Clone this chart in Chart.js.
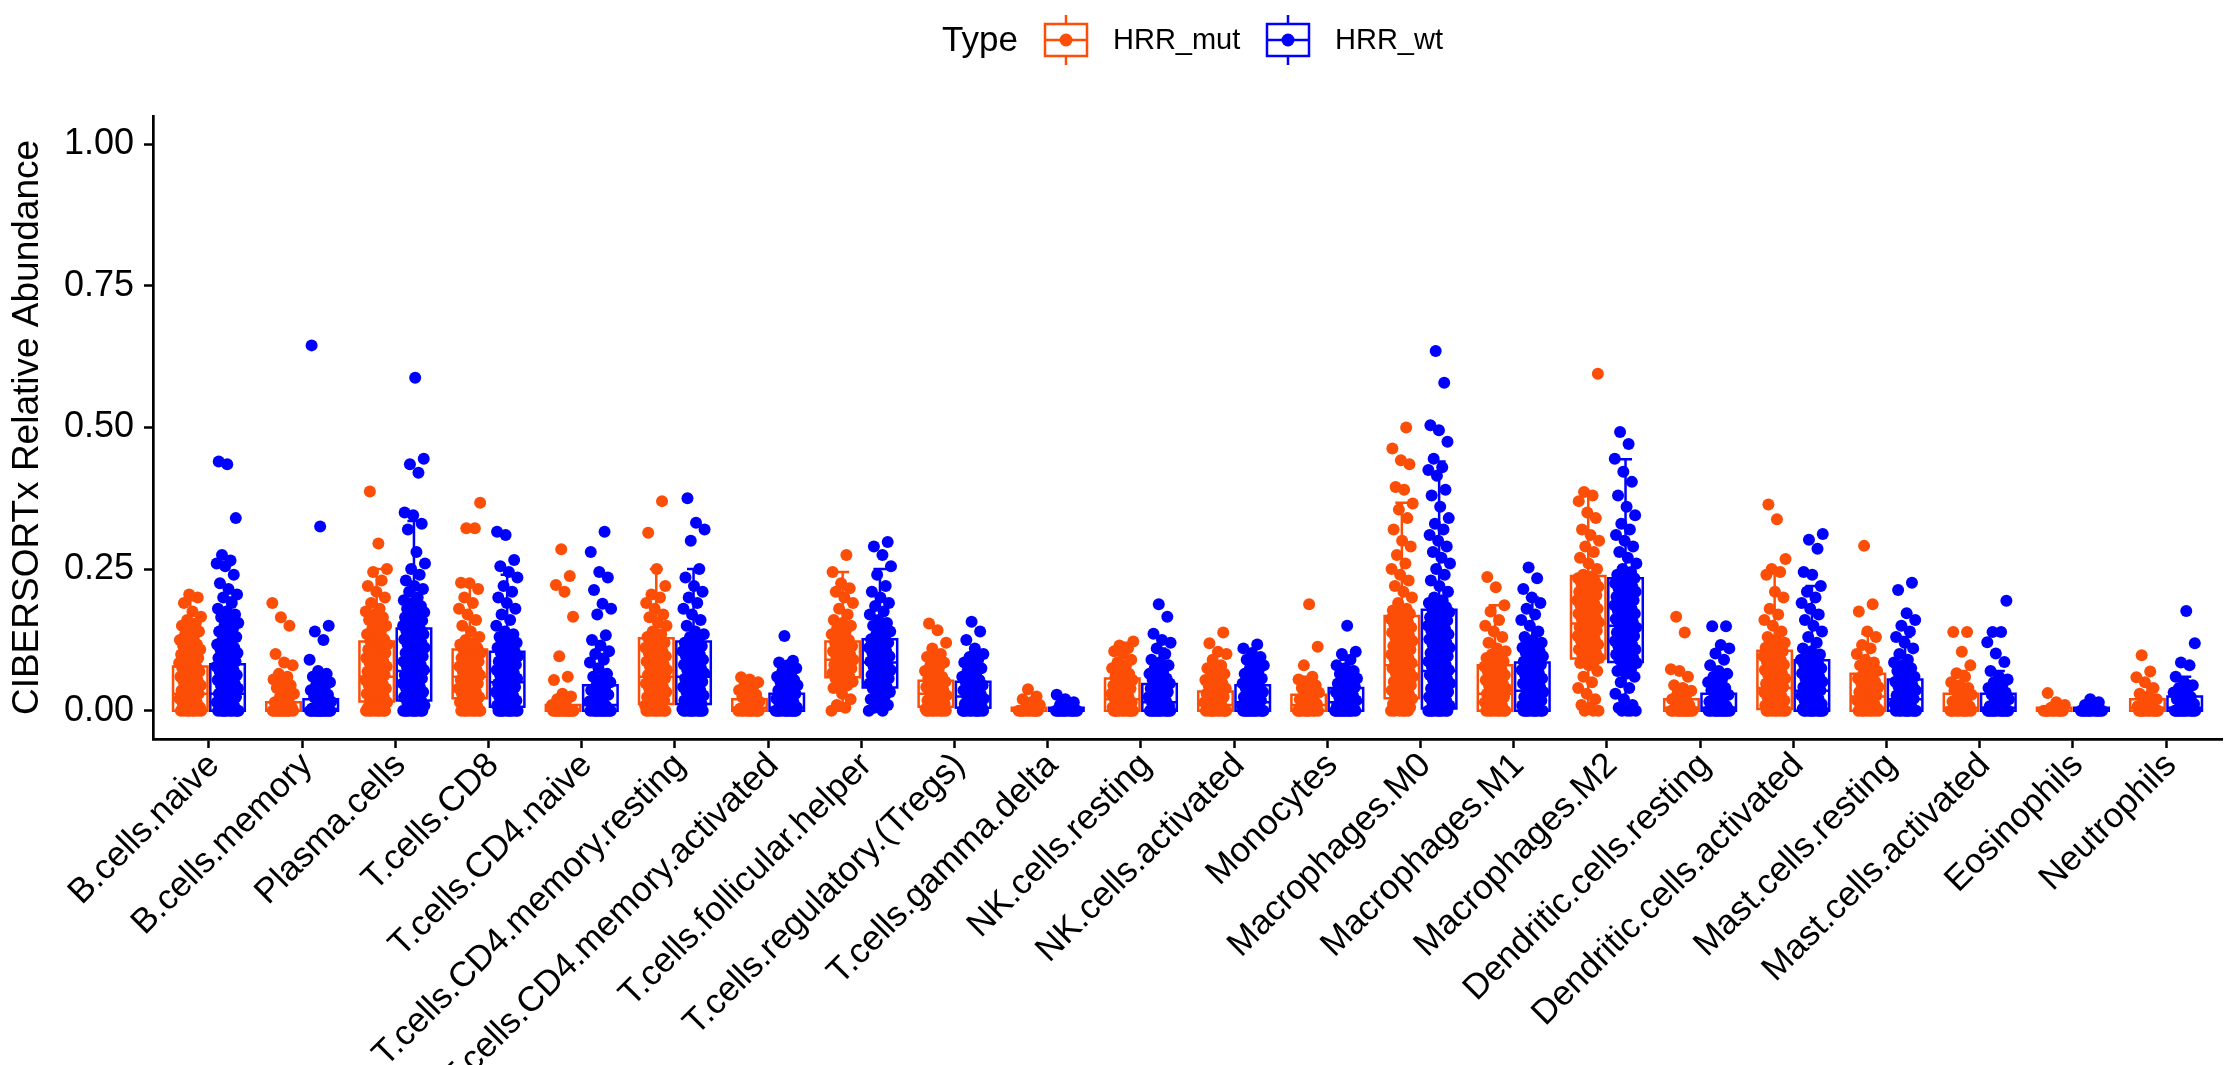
<!DOCTYPE html>
<html lang="en">
<head>
    <meta charset="UTF-8">
    <title>CIBERSORTx Relative Abundance by HRR status</title>
    <script src="https://cdn.jsdelivr.net/npm/chart.js"></script>
    <style>
        body {
            margin: 0;
            background: #ffffff;
            overflow: hidden;
        }
        #wrap {
            width: 2228px;
            height: 1065px;
        }
    </style>
</head>
<body>
    <div id="wrap">
        <canvas id="boxChart" width="2228" height="1065"></canvas>
    </div>
    <script>
        const categories = [
            'B.cells.naive', 'B.cells.memory', 'Plasma.cells', 'T.cells.CD8', 'T.cells.CD4.naive',
            'T.cells.CD4.memory.resting', 'T.cells.CD4.memory.activated', 'T.cells.follicular.helper',
            'T.cells.regulatory.(Tregs)', 'T.cells.gamma.delta', 'NK.cells.resting', 'NK.cells.activated',
            'Monocytes', 'Macrophages.M0', 'Macrophages.M1', 'Macrophages.M2', 'Dendritic.cells.resting',
            'Dendritic.cells.activated', 'Mast.cells.resting', 'Mast.cells.activated', 'Eosinophils', 'Neutrophils'
        ];
        const groups = ['HRR_mut', 'HRR_wt'];
        const yTicks = [0, 0.25, 0.5, 0.75, 1];

        // box statistics
        const mutLow  = [0, 0, 0, 0, 0, 0, 0, 0, 0, 0, 0, 0, 0, 0, 0, 0, 0, 0, 0, 0, 0, 0];
        const mutQ1   = [0, 0, 0.016, 0.022, 0, 0.012, 0, 0.059, 0.007, 0, 0, 0, 0, 0.022, 0, 0.092, 0, 0.003, 0, 0, 0, 0];
        const mutMed  = [0.03, 0, 0.06, 0.06, 0, 0.06, 0.005, 0.09, 0.03, 0, 0.02, 0.01, 0.01, 0.08, 0.03, 0.154, 0.005, 0.04, 0.025, 0.005, 0, 0.005];
        const mutQ3   = [0.078, 0.015, 0.122, 0.108, 0.01, 0.128, 0.02, 0.122, 0.053, 0.005, 0.057, 0.034, 0.028, 0.167, 0.08, 0.238, 0.02, 0.106, 0.065, 0.03, 0.005, 0.02];
        const mutHigh = [0.195, 0.035, 0.25, 0.22, 0.025, 0.25, 0.045, 0.245, 0.1, 0.01, 0.12, 0.08, 0.06, 0.367, 0.186, 0.384, 0.045, 0.249, 0.136, 0.07, 0.01, 0.045];

        const wtLow  = [0, 0, 0, 0, 0, 0, 0, 0, 0, 0, 0, 0, 0, 0, 0, 0, 0, 0, 0, 0, 0, 0];
        const wtQ1   = [0, 0, 0.018, 0.007, 0, 0.012, 0, 0.041, 0.005, 0, 0, 0, 0, 0.004, 0, 0.086, 0, 0, 0, 0, 0, 0];
        const wtMed  = [0.03, 0.003, 0.07, 0.05, 0.01, 0.06, 0.005, 0.085, 0.025, 0, 0.015, 0.015, 0.015, 0.07, 0.035, 0.15, 0.005, 0.035, 0.02, 0.005, 0, 0.005];
        const wtQ3   = [0.082, 0.02, 0.145, 0.104, 0.045, 0.122, 0.03, 0.126, 0.051, 0.005, 0.047, 0.045, 0.04, 0.178, 0.085, 0.234, 0.03, 0.089, 0.055, 0.03, 0.005, 0.025];
        const wtHigh = [0.2, 0.05, 0.335, 0.24, 0.1, 0.25, 0.07, 0.25, 0.1, 0.01, 0.11, 0.1, 0.09, 0.44, 0.2, 0.444, 0.07, 0.22, 0.13, 0.07, 0.01, 0.06];

        // sample values, one list per cell type
        const mutPoints = [
            [0,0,0,0,0,0,0,0,0.003,0.006,0.009,0.012,0.015,0.018,0.021,0.024,0.027,0.03,0.033,0.036,0.039,0.042,0.045,0.048,0.051,0.054,0.057,0.06,0.063,0.066,0.069,0.072,0.075,0.078,0.081,0.084,0.087,0.09,0.093,0.096,0.099,0.102,0.105,0.108,0.111,0.114,0.117,0.12,0.125,0.13,0.135,0.14,0.145,0.15,0.154,0.16,0.166,0.175,0.19,0.2,0.205],
            [0,0,0,0,0,0,0,0,0,0,0,0,0.005,0.01,0.015,0.02,0.025,0.03,0.035,0.04,0.045,0.05,0.055,0.06,0.065,0.08,0.085,0.1,0.15,0.165,0.19],
            [0,0,0,0,0,0,0,0,0.003,0.006,0.009,0.012,0.015,0.018,0.021,0.024,0.027,0.03,0.033,0.036,0.039,0.042,0.045,0.048,0.051,0.054,0.057,0.06,0.063,0.066,0.069,0.072,0.075,0.078,0.081,0.084,0.087,0.09,0.093,0.096,0.099,0.102,0.105,0.108,0.111,0.114,0.117,0.12,0.123,0.126,0.13,0.135,0.14,0.145,0.15,0.155,0.16,0.165,0.17,0.175,0.18,0.19,0.2,0.21,0.22,0.23,0.245,0.25,0.295,0.387],
            [0,0,0,0,0,0,0,0,0.003,0.006,0.009,0.012,0.015,0.018,0.021,0.024,0.027,0.03,0.033,0.036,0.039,0.042,0.045,0.048,0.051,0.054,0.057,0.06,0.063,0.066,0.069,0.072,0.075,0.078,0.081,0.084,0.087,0.09,0.093,0.096,0.099,0.102,0.105,0.108,0.111,0.114,0.117,0.12,0.125,0.13,0.14,0.15,0.16,0.17,0.18,0.19,0.2,0.215,0.225,0.226,0.322,0.322,0.367],
            [0,0,0,0,0,0,0,0,0,0,0,0,0,0,0.005,0.01,0.015,0.02,0.025,0.03,0.054,0.06,0.096,0.166,0.21,0.222,0.238,0.285],
            [0,0,0,0,0,0,0,0,0.003,0.006,0.009,0.012,0.015,0.018,0.021,0.024,0.027,0.03,0.033,0.036,0.039,0.042,0.045,0.048,0.051,0.054,0.057,0.06,0.063,0.066,0.069,0.072,0.075,0.078,0.081,0.084,0.087,0.09,0.093,0.096,0.099,0.102,0.105,0.108,0.111,0.114,0.117,0.12,0.125,0.13,0.135,0.14,0.15,0.155,0.165,0.17,0.18,0.19,0.2,0.205,0.22,0.25,0.314,0.37],
            [0,0,0,0,0,0,0,0,0,0,0.004,0.008,0.012,0.016,0.02,0.024,0.028,0.032,0.036,0.04,0.045,0.05,0.055,0.059],
            [0,0.005,0.01,0.02,0.03,0.04,0.045,0.048,0.051,0.054,0.057,0.06,0.063,0.066,0.069,0.072,0.075,0.078,0.081,0.084,0.087,0.09,0.093,0.096,0.099,0.102,0.105,0.108,0.111,0.114,0.117,0.12,0.125,0.13,0.135,0.14,0.145,0.15,0.155,0.16,0.17,0.18,0.19,0.2,0.21,0.216,0.225,0.245,0.275],
            [0,0,0,0,0,0,0,0,0.003,0.006,0.009,0.012,0.015,0.018,0.021,0.024,0.027,0.03,0.033,0.036,0.039,0.042,0.045,0.048,0.051,0.054,0.057,0.06,0.065,0.07,0.075,0.08,0.085,0.09,0.095,0.1,0.11,0.12,0.142,0.154],
            [0,0,0,0,0,0,0,0,0,0,0.005,0.01,0.015,0.02,0.025,0.038],
            [0,0,0,0,0,0,0,0,0,0,0.003,0.006,0.009,0.012,0.015,0.018,0.021,0.024,0.027,0.03,0.033,0.036,0.039,0.042,0.045,0.048,0.051,0.054,0.057,0.06,0.065,0.07,0.075,0.08,0.085,0.09,0.1,0.105,0.11,0.115,0.122],
            [0,0,0,0,0,0,0,0,0,0,0.003,0.006,0.009,0.012,0.015,0.018,0.021,0.024,0.027,0.03,0.033,0.036,0.039,0.042,0.045,0.048,0.051,0.054,0.057,0.06,0.065,0.07,0.075,0.08,0.09,0.1,0.104,0.119,0.138],
            [0,0,0,0,0,0,0,0,0,0,0.004,0.008,0.012,0.016,0.02,0.024,0.028,0.032,0.036,0.04,0.045,0.05,0.055,0.06,0.08,0.113,0.188],
            [0,0,0,0,0,0,0.003,0.006,0.009,0.012,0.015,0.018,0.021,0.024,0.027,0.03,0.033,0.036,0.039,0.042,0.045,0.048,0.051,0.054,0.057,0.06,0.063,0.066,0.069,0.072,0.075,0.078,0.081,0.084,0.087,0.09,0.093,0.096,0.099,0.102,0.105,0.108,0.111,0.114,0.117,0.12,0.123,0.126,0.129,0.132,0.135,0.138,0.141,0.144,0.147,0.15,0.153,0.156,0.159,0.162,0.165,0.168,0.171,0.174,0.177,0.18,0.19,0.2,0.21,0.22,0.23,0.24,0.25,0.26,0.275,0.29,0.3,0.32,0.34,0.355,0.366,0.39,0.395,0.435,0.442,0.463,0.5],
            [0,0,0,0,0,0,0,0,0.003,0.006,0.009,0.012,0.015,0.018,0.021,0.024,0.027,0.03,0.033,0.036,0.039,0.042,0.045,0.048,0.051,0.054,0.057,0.06,0.063,0.066,0.069,0.072,0.075,0.078,0.081,0.084,0.087,0.09,0.093,0.096,0.099,0.105,0.11,0.12,0.13,0.14,0.15,0.16,0.175,0.186,0.218,0.236],
            [0,0,0,0.005,0.01,0.02,0.03,0.04,0.05,0.06,0.07,0.08,0.084,0.087,0.09,0.093,0.096,0.099,0.102,0.105,0.108,0.111,0.114,0.117,0.12,0.123,0.126,0.129,0.132,0.135,0.138,0.141,0.144,0.147,0.15,0.153,0.156,0.159,0.162,0.165,0.168,0.171,0.174,0.177,0.18,0.183,0.186,0.189,0.192,0.195,0.198,0.201,0.204,0.207,0.21,0.213,0.216,0.219,0.222,0.225,0.228,0.231,0.234,0.237,0.24,0.25,0.26,0.27,0.28,0.29,0.3,0.31,0.32,0.34,0.35,0.37,0.38,0.386,0.595],
            [0,0,0,0,0,0,0,0,0,0,0,0,0.005,0.01,0.015,0.02,0.025,0.03,0.035,0.04,0.045,0.06,0.07,0.073,0.138,0.166],
            [0,0,0,0,0,0,0,0,0.003,0.006,0.009,0.012,0.015,0.018,0.021,0.024,0.027,0.03,0.033,0.036,0.039,0.042,0.045,0.048,0.051,0.054,0.057,0.06,0.063,0.066,0.069,0.072,0.075,0.078,0.081,0.084,0.087,0.09,0.093,0.096,0.099,0.102,0.105,0.108,0.111,0.114,0.117,0.12,0.125,0.13,0.14,0.15,0.16,0.17,0.18,0.2,0.21,0.24,0.245,0.25,0.268,0.338,0.364],
            [0,0,0,0,0,0,0,0,0.003,0.006,0.009,0.012,0.015,0.018,0.021,0.024,0.027,0.03,0.033,0.036,0.039,0.042,0.045,0.048,0.051,0.054,0.057,0.06,0.065,0.07,0.075,0.08,0.085,0.09,0.1,0.11,0.116,0.13,0.14,0.175,0.188,0.291],
            [0,0,0,0,0,0,0,0,0,0,0.004,0.008,0.012,0.016,0.02,0.024,0.028,0.032,0.036,0.04,0.045,0.05,0.06,0.066,0.08,0.104,0.139,0.139],
            [0,0,0,0,0,0,0,0,0,0,0.005,0.01,0.015,0.031],
            [0,0,0,0,0,0,0,0,0,0,0.004,0.008,0.012,0.016,0.02,0.025,0.03,0.04,0.05,0.059,0.069,0.098]
        ];
        const wtPoints = [
            [0,0,0,0,0,0,0,0,0,0,0.003,0.006,0.009,0.012,0.015,0.018,0.021,0.024,0.027,0.03,0.033,0.036,0.039,0.042,0.045,0.048,0.051,0.054,0.057,0.06,0.063,0.066,0.069,0.072,0.075,0.078,0.081,0.084,0.087,0.09,0.093,0.096,0.099,0.102,0.105,0.108,0.111,0.114,0.117,0.12,0.125,0.13,0.135,0.14,0.145,0.15,0.155,0.16,0.165,0.17,0.175,0.18,0.19,0.2,0.205,0.215,0.225,0.24,0.255,0.26,0.265,0.275,0.34,0.435,0.44],
            [0,0,0,0,0,0,0,0,0,0,0,0,0,0,0.004,0.008,0.012,0.016,0.02,0.024,0.028,0.032,0.036,0.04,0.045,0.05,0.055,0.06,0.065,0.07,0.09,0.125,0.14,0.15,0.325,0.645],
            [0,0,0,0,0,0,0,0,0,0,0.003,0.006,0.009,0.012,0.015,0.018,0.021,0.024,0.027,0.03,0.033,0.036,0.039,0.042,0.045,0.048,0.051,0.054,0.057,0.06,0.063,0.066,0.069,0.072,0.075,0.078,0.081,0.084,0.087,0.09,0.093,0.096,0.099,0.102,0.105,0.108,0.111,0.114,0.117,0.12,0.123,0.126,0.129,0.132,0.135,0.138,0.141,0.144,0.147,0.15,0.153,0.156,0.159,0.162,0.165,0.168,0.171,0.174,0.177,0.18,0.185,0.19,0.195,0.2,0.21,0.215,0.22,0.23,0.24,0.25,0.26,0.28,0.32,0.33,0.345,0.35,0.42,0.435,0.445,0.588],
            [0,0,0,0,0,0,0,0,0,0,0.003,0.006,0.009,0.012,0.015,0.018,0.021,0.024,0.027,0.03,0.033,0.036,0.039,0.042,0.045,0.048,0.051,0.054,0.057,0.06,0.063,0.066,0.069,0.072,0.075,0.078,0.081,0.084,0.087,0.09,0.093,0.096,0.099,0.102,0.105,0.108,0.111,0.114,0.117,0.12,0.125,0.13,0.135,0.14,0.15,0.16,0.17,0.18,0.19,0.2,0.21,0.22,0.235,0.245,0.255,0.266,0.31,0.316],
            [0,0,0,0,0,0,0,0,0,0,0,0,0.004,0.008,0.012,0.016,0.02,0.024,0.028,0.032,0.036,0.04,0.045,0.05,0.055,0.06,0.065,0.075,0.085,0.09,0.1,0.105,0.115,0.125,0.133,0.17,0.18,0.189,0.213,0.235,0.245,0.28,0.316],
            [0,0,0,0,0,0,0,0,0,0,0.003,0.006,0.009,0.012,0.015,0.018,0.021,0.024,0.027,0.03,0.033,0.036,0.039,0.042,0.045,0.048,0.051,0.054,0.057,0.06,0.063,0.066,0.069,0.072,0.075,0.078,0.081,0.084,0.087,0.09,0.093,0.096,0.099,0.102,0.105,0.108,0.111,0.114,0.117,0.12,0.125,0.13,0.135,0.14,0.15,0.16,0.17,0.18,0.19,0.2,0.21,0.22,0.235,0.25,0.3,0.32,0.332,0.375],
            [0,0,0,0,0,0,0,0,0,0,0,0,0.003,0.006,0.009,0.012,0.015,0.018,0.021,0.024,0.027,0.03,0.033,0.036,0.039,0.042,0.045,0.048,0.051,0.054,0.057,0.06,0.065,0.07,0.075,0.08,0.085,0.088,0.132],
            [0,0,0.005,0.01,0.015,0.02,0.025,0.03,0.033,0.036,0.039,0.042,0.045,0.048,0.051,0.054,0.057,0.06,0.063,0.066,0.069,0.072,0.075,0.078,0.081,0.084,0.087,0.09,0.093,0.096,0.099,0.102,0.105,0.108,0.111,0.114,0.117,0.12,0.123,0.126,0.13,0.135,0.14,0.145,0.15,0.155,0.16,0.17,0.175,0.185,0.19,0.2,0.21,0.22,0.24,0.255,0.275,0.29,0.298],
            [0,0,0,0,0,0,0,0,0,0,0.003,0.006,0.009,0.012,0.015,0.018,0.021,0.024,0.027,0.03,0.033,0.036,0.039,0.042,0.045,0.048,0.051,0.054,0.057,0.06,0.065,0.07,0.075,0.08,0.085,0.09,0.095,0.1,0.11,0.125,0.14,0.157],
            [0,0,0,0,0,0,0,0,0,0,0,0,0.005,0.01,0.015,0.02,0.028],
            [0,0,0,0,0,0,0,0,0,0,0,0,0.003,0.006,0.009,0.012,0.015,0.018,0.021,0.024,0.027,0.03,0.033,0.036,0.039,0.042,0.045,0.048,0.051,0.054,0.057,0.06,0.065,0.07,0.075,0.08,0.085,0.09,0.1,0.11,0.12,0.125,0.136,0.166,0.188],
            [0,0,0,0,0,0,0,0,0,0,0,0,0.003,0.006,0.009,0.012,0.015,0.018,0.021,0.024,0.027,0.03,0.033,0.036,0.039,0.042,0.045,0.048,0.051,0.054,0.057,0.06,0.065,0.07,0.075,0.08,0.085,0.09,0.095,0.102,0.11,0.117],
            [0,0,0,0,0,0,0,0,0,0,0,0,0.003,0.006,0.009,0.012,0.015,0.018,0.021,0.024,0.027,0.03,0.033,0.036,0.039,0.042,0.045,0.048,0.051,0.054,0.057,0.06,0.065,0.07,0.075,0.08,0.09,0.1,0.104,0.15],
            [0,0,0,0,0,0,0,0,0,0,0.003,0.006,0.009,0.012,0.015,0.018,0.021,0.024,0.027,0.03,0.033,0.036,0.039,0.042,0.045,0.048,0.051,0.054,0.057,0.06,0.063,0.066,0.069,0.072,0.075,0.078,0.081,0.084,0.087,0.09,0.093,0.096,0.099,0.102,0.105,0.108,0.111,0.114,0.117,0.12,0.123,0.126,0.129,0.132,0.135,0.138,0.141,0.144,0.147,0.15,0.153,0.156,0.159,0.162,0.165,0.168,0.171,0.174,0.177,0.18,0.183,0.186,0.19,0.195,0.2,0.21,0.22,0.23,0.24,0.25,0.26,0.27,0.28,0.29,0.3,0.31,0.32,0.33,0.34,0.36,0.38,0.39,0.415,0.425,0.43,0.445,0.475,0.495,0.504,0.579,0.635],
            [0,0,0,0,0,0,0,0,0,0,0.003,0.006,0.009,0.012,0.015,0.018,0.021,0.024,0.027,0.03,0.033,0.036,0.039,0.042,0.045,0.048,0.051,0.054,0.057,0.06,0.063,0.066,0.069,0.072,0.075,0.078,0.081,0.084,0.087,0.09,0.093,0.096,0.099,0.102,0.105,0.108,0.111,0.114,0.117,0.12,0.125,0.13,0.14,0.15,0.16,0.17,0.18,0.19,0.2,0.215,0.234,0.253],
            [0,0,0,0,0.005,0.01,0.02,0.03,0.04,0.05,0.06,0.065,0.07,0.075,0.08,0.084,0.087,0.09,0.093,0.096,0.099,0.102,0.105,0.108,0.111,0.114,0.117,0.12,0.123,0.126,0.129,0.132,0.135,0.138,0.141,0.144,0.147,0.15,0.153,0.156,0.159,0.162,0.165,0.168,0.171,0.174,0.177,0.18,0.183,0.186,0.189,0.192,0.195,0.198,0.201,0.204,0.207,0.21,0.213,0.216,0.219,0.222,0.225,0.228,0.231,0.234,0.237,0.24,0.245,0.25,0.26,0.27,0.28,0.29,0.3,0.31,0.32,0.33,0.345,0.36,0.38,0.404,0.422,0.445,0.471,0.492],
            [0,0,0,0,0,0,0,0,0,0,0,0,0.004,0.008,0.012,0.016,0.02,0.024,0.028,0.032,0.036,0.04,0.045,0.05,0.055,0.06,0.065,0.07,0.08,0.09,0.101,0.11,0.116,0.149,0.149],
            [0,0,0,0,0,0,0,0,0,0,0.003,0.006,0.009,0.012,0.015,0.018,0.021,0.024,0.027,0.03,0.033,0.036,0.039,0.042,0.045,0.048,0.051,0.054,0.057,0.06,0.063,0.066,0.069,0.072,0.075,0.078,0.081,0.084,0.087,0.09,0.093,0.096,0.099,0.105,0.11,0.12,0.13,0.14,0.15,0.16,0.17,0.18,0.19,0.2,0.21,0.22,0.24,0.245,0.286,0.302,0.312],
            [0,0,0,0,0,0,0,0,0,0,0.003,0.006,0.009,0.012,0.015,0.018,0.021,0.024,0.027,0.03,0.033,0.036,0.039,0.042,0.045,0.048,0.051,0.054,0.057,0.06,0.065,0.07,0.075,0.08,0.085,0.09,0.1,0.11,0.12,0.13,0.14,0.15,0.16,0.172,0.213,0.226],
            [0,0,0,0,0,0,0,0,0,0,0,0,0.004,0.008,0.012,0.016,0.02,0.024,0.028,0.032,0.036,0.04,0.045,0.05,0.055,0.06,0.07,0.086,0.101,0.121,0.139,0.139,0.194],
            [0,0,0,0,0,0,0,0,0,0,0,0,0.005,0.01,0.015,0.02],
            [0,0,0,0,0,0,0,0,0,0,0,0,0.004,0.008,0.012,0.016,0.02,0.024,0.028,0.032,0.036,0.04,0.045,0.05,0.06,0.08,0.085,0.119,0.176]
        ];

        const MUT_COLOR = '#FC4E07';
        const WT_COLOR = '#0000FF';
        const FONT = '"Liberation Sans", Arial, Helvetica, sans-serif';
        const DODGE = 0.2;      // half distance between the two boxes
        const BOX_HALF = 0.185; // half box width in category units
        const CAP_HALF = 0.07;

        // spread points sideways, evenly, without randomness
        const jitter = (k) => (((k * 0.6180339887 + 0.37) % 1) - 0.5) * 0.24;

        const buildPoints = (lists, offset) => {
            const out = [];
            lists.forEach((vals, c) => {
                vals.forEach((v, k) => {
                    out.push({ x: c + offset + jitter(k + c * 5), y: v });
                });
            });
            return out;
        };

        const boxSets = [
            { color: MUT_COLOR, offset: -DODGE, low: mutLow, q1: mutQ1, med: mutMed, q3: mutQ3, high: mutHigh },
            { color: WT_COLOR, offset: DODGE, low: wtLow, q1: wtQ1, med: wtMed, q3: wtQ3, high: wtHigh }
        ];

        const boxPlugin = {
            id: 'boxes',
            afterDatasetsDraw(chart) {
                const { ctx, scales: { x, y } } = chart;
                ctx.save();
                ctx.lineWidth = 2.5;
                boxSets.forEach(s => {
                    ctx.strokeStyle = s.color;
                    categories.forEach((_, i) => {
                        const c = i + s.offset;
                        const xl = x.getPixelForValue(c - BOX_HALF);
                        const xr = x.getPixelForValue(c + BOX_HALF);
                        const xm = x.getPixelForValue(c);
                        const cl = x.getPixelForValue(c - CAP_HALF);
                        const cr = x.getPixelForValue(c + CAP_HALF);
                        const yq1 = y.getPixelForValue(s.q1[i]);
                        const yq3 = y.getPixelForValue(s.q3[i]);
                        const ym = y.getPixelForValue(s.med[i]);
                        const ylo = y.getPixelForValue(s.low[i]);
                        const yhi = y.getPixelForValue(s.high[i]);
                        ctx.beginPath();
                        // whiskers and caps
                        ctx.moveTo(xm, yq3); ctx.lineTo(xm, yhi);
                        ctx.moveTo(cl, yhi); ctx.lineTo(cr, yhi);
                        ctx.moveTo(xm, yq1); ctx.lineTo(xm, ylo);
                        ctx.moveTo(cl, ylo); ctx.lineTo(cr, ylo);
                        // box and median
                        ctx.rect(xl, yq3, xr - xl, yq1 - yq3);
                        ctx.moveTo(xl, ym); ctx.lineTo(xr, ym);
                        ctx.stroke();
                    });
                });
                ctx.restore();
            }
        };

        const legendPlugin = {
            id: 'typeLegend',
            afterDraw(chart) {
                const ctx = chart.ctx;
                const cy = 40;
                ctx.save();
                ctx.fillStyle = '#000';
                ctx.textBaseline = 'middle';
                ctx.textAlign = 'left';
                ctx.font = '35px ' + FONT;
                ctx.fillText('Type', 942, cy + 1);
                const keys = [
                    { x: 1045, label: groups[0], lx: 1113, color: MUT_COLOR },
                    { x: 1267, label: groups[1], lx: 1335, color: WT_COLOR }
                ];
                keys.forEach(k => {
                    const w = 42, h = 32, mid = k.x + w / 2;
                    ctx.strokeStyle = k.color;
                    ctx.fillStyle = k.color;
                    ctx.lineWidth = 2.5;
                    ctx.beginPath();
                    ctx.moveTo(mid, cy - 25); ctx.lineTo(mid, cy - h / 2);
                    ctx.moveTo(mid, cy + h / 2); ctx.lineTo(mid, cy + 25);
                    ctx.rect(k.x, cy - h / 2, w, h);
                    ctx.moveTo(k.x, cy); ctx.lineTo(k.x + w, cy);
                    ctx.stroke();
                    ctx.beginPath();
                    ctx.arc(mid, cy, 6.5, 0, Math.PI * 2);
                    ctx.fill();
                    ctx.fillStyle = '#000';
                    ctx.font = '29px ' + FONT;
                    ctx.fillText(k.label, k.lx, cy + 1);
                });
                ctx.restore();
            }
        };

        const ctx = document.getElementById('boxChart').getContext('2d');
        const chart = new Chart(ctx, {
            type: 'scatter',
            data: {
                datasets: [
                    {
                        label: groups[0],
                        data: buildPoints(mutPoints, -DODGE),
                        backgroundColor: MUT_COLOR,
                        borderWidth: 0,
                        pointRadius: 6
                    },
                    {
                        label: groups[1],
                        data: buildPoints(wtPoints, DODGE),
                        backgroundColor: WT_COLOR,
                        borderWidth: 0,
                        pointRadius: 6
                    }
                ]
            },
            options: {
                responsive: false,
                animation: false,
                devicePixelRatio: 1,
                layout: { padding: { top: 116, right: 4, left: 0, bottom: 0 } },
                plugins: {
                    legend: { display: false },
                    tooltip: { enabled: false }
                },
                scales: {
                    x: {
                        type: 'linear',
                        min: -0.6,
                        max: 21.6,
                        afterBuildTicks: (scale) => {
                            scale.ticks = categories.map((_, i) => ({ value: i }));
                        },
                        afterFit: (scale) => { scale.height = 326; },
                        grid: {
                            drawOnChartArea: false,
                            drawTicks: true,
                            tickLength: 9,
                            tickWidth: 2.5,
                            tickColor: '#000'
                        },
                        border: { color: '#000', width: 2.7 },
                        ticks: {
                            autoSkip: false,
                            maxRotation: 45,
                            minRotation: 45,
                            padding: -3,
                            labelOffset: 5,
                            color: '#000',
                            font: { family: FONT, size: 35 },
                            callback: (v) => categories[v]
                        }
                    },
                    y: {
                        min: -0.05,
                        max: 1.05,
                        afterBuildTicks: (scale) => {
                            scale.ticks = yTicks.map(v => ({ value: v }));
                        },
                        afterFit: (scale) => { scale.width = 153; },
                        grid: {
                            drawOnChartArea: false,
                            drawTicks: true,
                            tickLength: 9,
                            tickWidth: 2.5,
                            tickColor: '#000'
                        },
                        border: { color: '#000', width: 2.7 },
                        ticks: {
                            padding: 10,
                            color: '#000',
                            font: { family: FONT, size: 36 },
                            callback: (v) => v.toFixed(2)
                        },
                        title: {
                            display: true,
                            text: 'CIBERSORTx Relative Abundance',
                            color: '#000',
                            font: { family: FONT, size: 37 },
                            padding: { top: 6, bottom: 6 }
                        }
                    }
                }
            },
            plugins: [boxPlugin, legendPlugin]
        });
    </script>
</body>
</html>
